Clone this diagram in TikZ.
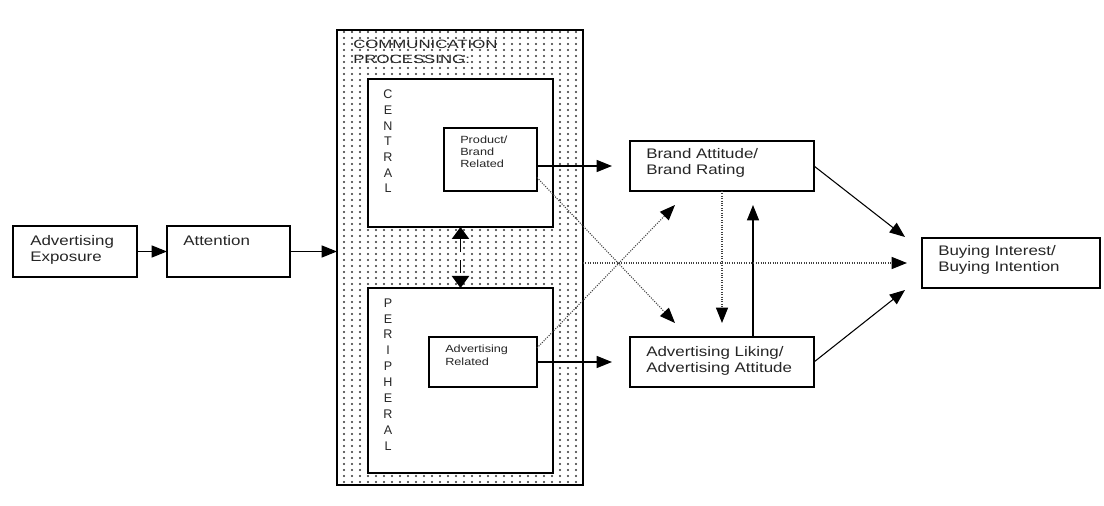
\documentclass[tikz,border=0pt]{standalone}
\usepackage{fontspec}
\setmainfont{Liberation Sans}[FakeStretch=1.22]
\newfontfamily\widefont{Liberation Sans}[FakeStretch=1.4]
\newfontfamily\plainfont{Liberation Sans}
\usetikzlibrary{arrows.meta,patterns.meta}

% sparse dot screen for the processing stage
\tikzdeclarepattern{
  name=commdots,
  type=uncolored,
  bottom left={(-1pt,-1pt)},
  top right={(5pt,3.5pt)},
  tile size={(6pt,4.5pt)},
  code={\fill (0pt,0pt) circle (0.85pt);}
}

\begin{document}
\begin{tikzpicture}[x=0.75pt,y=-0.75pt,
  box/.style={draw=black, line width=1pt, inner sep=0pt, outer sep=0pt},
  wbox/.style={box, fill=white},
  % multi-line labels are anchored at the baseline of their last line
  lbl/.style={anchor=base west, inner sep=0pt, align=left, text=black!85,
    font=\fontsize{10.4}{12}\selectfont},
  smalllbl/.style={lbl, font=\fontsize{7.8}{9.2}\selectfont},
  vlbl/.style={anchor=base, inner sep=0pt, align=center, text=black!85},
  arr/.style={line width=0.8pt, -{Triangle[length=11.5pt,width=9pt]}},
  dotarr/.style={line width=0.8pt, densely dotted, draw=black!75,
    -{Triangle[length=11.5pt,width=9pt,color=black]}},
]
\useasboundingbox (0,0) rectangle (1104,506);
\fill[white] (0,0) rectangle (1104,506);

% input stages
\node[wbox, minimum width=93pt, minimum height=38.25pt] (expo) at (75,251.5) {};
\node[lbl] (expotxt) at ([shift={(17,36)}]expo.north west) {Advertising\\Exposure};
\node[wbox, minimum width=92.25pt, minimum height=38.25pt] (attn) at (228.5,251.5) {};
\node[lbl] (attntxt) at ([shift={(16,20)}]attn.north west) {Attention};

% communication processing
\node[box, pattern=commdots, pattern color=black!80,
      minimum width=184.5pt, minimum height=341.25pt] (comm) at (460,257.5) {};
\node[lbl, font=\widefont\fontsize{9}{11.25}\selectfont] (commtxt)
  at ([shift={(16,34)}]comm.north west) {COMMUNICATION\\PROCESSING:};

\node[wbox, minimum width=138.75pt, minimum height=111pt] (central) at (460.5,153) {};
\node[vlbl, font=\plainfont\fontsize{9.4}{11.8}\selectfont] (centtxt)
  at ([shift={(20,114)}]central.north west) {C\\E\\N\\T\\R\\A\\L};
\node[wbox, minimum width=138.75pt, minimum height=138.75pt] (periph) at (460.5,380.5) {};
\node[vlbl, font=\plainfont\fontsize{9.4}{11.9}\selectfont] (periphtxt)
  at ([shift={(20,162)}]periph.north west) {P\\E\\R\\I\\P\\H\\E\\R\\A\\L};

\node[wbox, minimum width=69.75pt, minimum height=47.25pt] (prod) at (490.5,159.5) {};
\node[smalllbl] (prodtxt) at ([shift={(16,40)}]prod.north west) {Product/\\Brand\\Related};
\node[wbox, minimum width=81pt, minimum height=37.5pt] (adrel) at (483,362) {};
\node[smalllbl] (adreltxt) at ([shift={(16,28)}]adrel.north west) {Advertising\\Related};

% attitudes and outcome
\node[wbox, minimum width=138pt, minimum height=37.5pt] (brand) at (722,166) {};
\node[lbl] (brandtxt) at ([shift={(16,34)}]brand.north west) {Brand Attitude/\\Brand Rating};
\node[wbox, minimum width=138pt, minimum height=37.5pt] (adlik) at (722,362) {};
\node[lbl] (adliktxt) at ([shift={(16,35)}]adlik.north west) {Advertising Liking/\\Advertising Attitude};
\node[wbox, minimum width=133.5pt, minimum height=37.5pt] (buy) at (1011,263) {};
\node[lbl] (buytxt) at ([shift={(16,34)}]buy.north west) {Buying Interest/\\Buying Intention};

% free ends of connectors
\coordinate (altip) at ([shift={(45,-14)}]adlik.north west);
\coordinate (brtip) at ([shift={(45,14)}]brand.south west);
\coordinate (uptip) at ([shift={(31,14)}]brand.south);
\coordinate (buytop) at ([shift={(-17,-1)}]buy.north west);
\coordinate (buybot) at ([shift={(-17,2)}]buy.south west);

% solid connectors
\draw[arr] (expo.east) -- (attn.west);
\draw[arr] (attn.east) -- (attn.east -| comm.west);
\draw[arr, shorten >=13.5pt] (prod.east |- brand.west) -- (brand.west);
\draw[arr, shorten >=13.5pt] (adrel.east) -- (adlik.west);
\draw[arr] (adlik.north -| uptip) -- (uptip);
\draw[arr] (brand.east) -- (buytop);
\draw[arr] (adlik.east) -- (buybot);
\draw[line width=0.8pt, dash pattern=on 10pt off 6pt,
      {Triangle[length=9pt,width=13pt]}-{Triangle[length=9pt,width=13pt]}]
  (central.south) -- (periph.north);

% dotted connectors
\draw[dotarr] ([shift={(0,18)}]prod.east) -- (altip);
\draw[dotarr] ([shift={(0,-14)}]adrel.east) -- (brtip);
\draw[dotarr, shorten >=11.25pt] (comm.east |- buy.west) -- (buy.west);
\draw[dotarr] (brand.south) -- (brand.south |- altip);
\end{tikzpicture}
\end{document}
